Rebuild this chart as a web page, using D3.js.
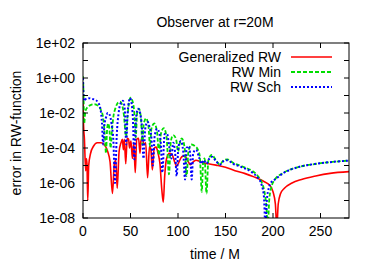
<!DOCTYPE html>
<html>
<head>
<meta charset="utf-8">
<script src="https://cdn.jsdelivr.net/npm/d3@7"></script>
<style>
  body { margin: 0; background: #fff; }
  text { font-family: "Liberation Sans", Arial, sans-serif; fill: #000; }
</style>
</head>
<body>
<svg width="374" height="262"></svg>
<script>
// values, stored as log10(error)
var genT = [0,0.5,1.5,2.8,3.5,4.2,5,6,8,11,15,19,23,26,28.5,31,33,34.5,36,38,40,41.5,42.5,43.5,45,46.5,48,49,50.5,52,53.5,55,56.5,58.5,60,61,62.5,64,66,68,70,71.5,73,75,77,79,81,83,84.5,86,88,91,94,96.5,98.5,101,104,107,110,113,116,119,122,126,132,140,150,160,170,180,190,197,200,202.5,204,205.5,208,212,220,230,245,260,280];
var genL = [-1.3,-2.6,-3.5,-5.3,-4.6,-4.9,-7.0,-5.0,-4.3,-3.9,-3.7,-3.7,-3.85,-4.2,-4.8,-6.6,-4.9,-4.7,-6.3,-4.2,-3.7,-3.5,-4.1,-3.5,-4.9,-3.45,-3.5,-4.0,-3.6,-4.6,-3.7,-5.4,-3.5,-3.45,-4.3,-3.6,-3.4,-3.8,-3.7,-5.7,-3.9,-4.1,-5.25,-4.0,-3.95,-4.3,-4.9,-6.4,-7.1,-5.6,-4.6,-4.3,-4.4,-4.8,-5.05,-4.8,-4.5,-4.45,-4.7,-4.95,-4.8,-4.7,-4.75,-4.85,-4.9,-4.98,-5.1,-5.3,-5.45,-5.65,-5.9,-6.15,-6.5,-7.2,-8.5,-7.2,-6.6,-6.3,-6.0,-5.8,-5.6,-5.45,-5.35];

var minT = [0,0.5,1.2,2.5,5,8,12,16,19,21,23,24.2,25.3,26.5,27.8,29,30.5,32,34,37,39,41,43,45.3,47,48.5,50,52,54,55.5,57,59,61,62.5,64,66.5,69,70.5,72,75,78,80,82,85,88,90.5,92.5,95,98,100,102,104,107,109,111,114,118,121,123,125,126.5,128,130,132,135.5,140,144,148,152,158,165,172,178,184,188,191,193,194.5,196,198,202,210,228,246,280];
var minL = [0.1,-0.8,-2.6,-1.9,-1.65,-1.55,-1.5,-1.6,-1.85,-2.2,-3.3,-4.3,-3.0,-2.6,-2.9,-4.0,-3.0,-2.2,-1.75,-1.4,-1.35,-1.5,-2.1,-3.35,-2.1,-1.4,-1.12,-1.3,-2.0,-3.4,-2.0,-1.75,-2.3,-3.8,-2.6,-2.3,-2.8,-3.9,-2.9,-2.6,-3.1,-4.4,-3.2,-2.86,-3.4,-5.5,-3.6,-3.26,-3.5,-4.2,-3.7,-3.45,-4.0,-5.6,-4.2,-3.8,-3.9,-4.1,-4.5,-6.5,-4.8,-4.6,-6.6,-4.7,-4.4,-4.7,-4.95,-4.7,-4.65,-4.85,-5.0,-5.15,-5.3,-5.6,-5.95,-6.5,-7.3,-8.5,-7.0,-6.3,-5.8,-5.45,-5.07,-4.9,-4.72];

var schT = [0,0.4,1,3,6,10,13,16,18.5,20,21.2,22.5,24,26,28,30,32,33.7,35.5,37.5,40,42,44,45.5,47,49.5,51,52.5,54,56,58,60,62,63.7,65.5,68,70,72,73.5,75.5,78,80.5,82,83.5,86,88.5,91,93,95,97,98.6,100.5,103,105.5,107.4,109,111.5,113,114.4,116,119,122,124.5,127,130,133,136,140,144,148,152,158,165,172,178,184,188,190.5,192,193.5,195.5,199,202,210.5,228,246,280];
var schL = [0.0,-0.9,-1.3,-1.2,-1.15,-1.2,-1.25,-1.4,-1.8,-2.6,-3.8,-2.7,-2.3,-2.0,-2.1,-2.6,-3.6,-6.0,-3.3,-2.0,-1.4,-1.3,-1.8,-3.8,-2.0,-1.15,-1.4,-2.3,-4.65,-2.2,-1.75,-2.0,-2.8,-4.6,-2.9,-2.5,-2.8,-3.4,-5.0,-3.3,-2.9,-3.2,-3.8,-5.4,-3.2,-3.2,-4.0,-4.6,-3.7,-4.3,-5.6,-3.9,-3.6,-4.2,-5.8,-4.0,-3.9,-4.5,-5.8,-4.3,-4.1,-4.5,-4.9,-4.7,-4.9,-4.6,-4.5,-4.75,-4.95,-4.75,-4.7,-4.9,-5.05,-5.2,-5.4,-5.7,-6.1,-6.8,-8.5,-7.0,-6.3,-5.9,-5.8,-5.45,-5.07,-4.9,-4.72];

var xTicks = [0, 50, 100, 150, 200, 250];
var yTicks = [1e2, 1e1, 1e0, 1e-1, 1e-2, 1e-3, 1e-4, 1e-5, 1e-6, 1e-7, 1e-8];
var yLabels = ["1e+02", "1e+00", "1e-02", "1e-04", "1e-06", "1e-08"];

var series = [
  {name: "Generalized RW", t: genT, l: genL, color: "#ff0000", dash: null, w: 1.6},
  {name: "RW Min", t: minT, l: minL, color: "#00dd00", dash: "4,2", w: 1.8},
  {name: "RW Sch", t: schT, l: schL, color: "#0000ff", dash: "2,2", w: 2}
];

var svg = d3.select("svg"),
    margin = {top: 43, right: 25, bottom: 44, left: 83},
    width = +svg.attr("width") - margin.left - margin.right,
    height = +svg.attr("height") - margin.top - margin.bottom,
    g = svg.append("g").attr("transform", "translate(" + margin.left + "," + margin.top + ")");

var x = d3.scaleLinear().domain([0, 280]).range([0, width]);
var y = d3.scaleLog().domain([1e-8, 1e2]).range([height, 0]);

g.append("clipPath").attr("id", "clip")
  .append("rect").attr("width", width).attr("height", height);

var line = d3.line()
    .x(function(d) { return x(d.t); })
    .y(function(d) { return y(d.v); })
    .curve(d3.curveMonotoneX);

series.forEach(function(s) {
  var pts = s.t.map(function(t, i) { return {t: t, v: Math.pow(10, s.l[i])}; });
  g.append("path")
    .datum(pts)
    .attr("clip-path", "url(#clip)")
    .attr("fill", "none")
    .attr("stroke", s.color)
    .attr("stroke-width", s.w)
    .attr("stroke-dasharray", s.dash)
    .attr("stroke-linejoin", "round")
    .attr("d", line);
});

// ticks, mirrored on all sides, pointing inward
var tk = 5;
xTicks.forEach(function(v) {
  g.append("line").attr("x1", x(v)).attr("x2", x(v)).attr("y1", height).attr("y2", height - tk).attr("stroke", "#000");
  g.append("line").attr("x1", x(v)).attr("x2", x(v)).attr("y1", 0).attr("y2", tk).attr("stroke", "#000");
  g.append("text").attr("x", x(v)).attr("y", height + 18)
    .attr("text-anchor", "middle").style("font-size", "14px").text(v);
});
yTicks.forEach(function(v) {
  g.append("line").attr("x1", 0).attr("x2", tk).attr("y1", y(v)).attr("y2", y(v)).attr("stroke", "#000");
  g.append("line").attr("x1", width).attr("x2", width - tk).attr("y1", y(v)).attr("y2", y(v)).attr("stroke", "#000");
});
yLabels.forEach(function(lab) {
  g.append("text").attr("x", -8).attr("y", y(+lab)).attr("dy", "0.35em")
    .attr("text-anchor", "end").style("font-size", "14px").text(lab);
});

g.append("rect").attr("width", width).attr("height", height)
  .attr("fill", "none").attr("stroke", "#000").attr("stroke-width", 1);

// legend
var leg = g.append("g");
series.forEach(function(s, i) {
  var ly = 14 + i * 15;
  leg.append("text").attr("x", 198).attr("y", ly).attr("dy", "0.35em")
    .attr("text-anchor", "end").style("font-size", "14px").text(s.name);
  leg.append("line").attr("x1", 208).attr("x2", 249).attr("y1", ly).attr("y2", ly)
    .attr("stroke", s.color).attr("stroke-width", s.w).attr("stroke-dasharray", s.dash);
});

svg.append("text").attr("x", 215).attr("y", 27).attr("text-anchor", "middle")
  .style("font-size", "14px").text("Observer at r=20M");
svg.append("text").attr("x", 215).attr("y", 259).attr("text-anchor", "middle")
  .style("font-size", "14px").text("time / M");
svg.append("text").attr("transform", "translate(21,133) rotate(-90)")
  .attr("text-anchor", "middle").style("font-size", "14px").text("error in RW-function");
</script>
</body>
</html>
